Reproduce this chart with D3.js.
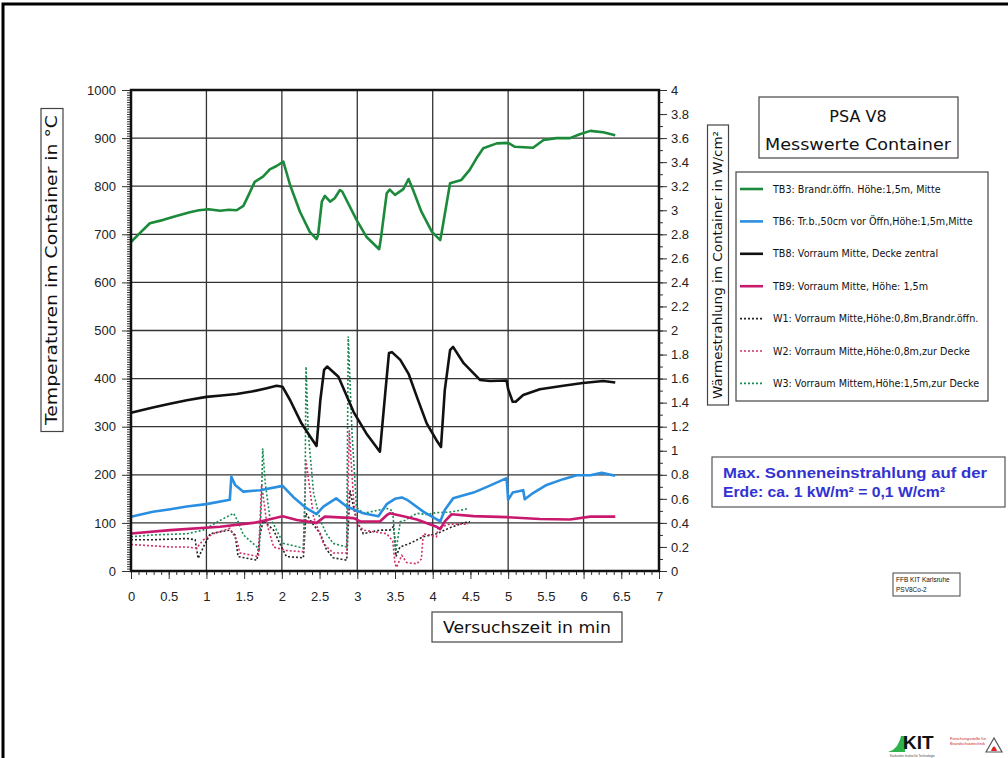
<!DOCTYPE html>
<html><head><meta charset="utf-8">
<script src="https://cdn.jsdelivr.net/npm/d3@7"></script>
<style>body{margin:0;background:#fff}svg{display:block}</style>
</head><body>
<svg id="c" width="1008" height="758"></svg>
<script>
// ---------- data ----------
const xTickValues = [0,0.5,1,1.5,2,2.5,3,3.5,4,4.5,5,5.5,6,6.5,7];
const tempTickValues = [0,100,200,300,400,500,600,700,800,900,1000];
const radTickValues = [0,0.2,0.4,0.6,0.8,1,1.2,1.4,1.6,1.8,2,2.2,2.4,2.6,2.8,3,3.2,3.4,3.6,3.8,4];

const tb3Time = [0,0.1,0.25,0.43,0.6,0.78,0.9,1.03,1.18,1.3,1.4,1.49,1.56,1.64,1.75,1.84,1.93,2.02,2.11,2.24,2.37,2.46,2.48,2.53,2.57,2.64,2.7,2.77,2.8,2.99,3.12,3.29,3.31,3.39,3.43,3.5,3.61,3.68,3.74,3.85,3.99,4.1,4.12,4.23,4.38,4.49,4.58,4.67,4.85,5,5.09,5.33,5.47,5.64,5.82,5.95,6.09,6.26,6.42];
const tb3Temp = [684,700,723,730,738,746,750,752,749,751,750,759,782,809,820,835,842,851,802,747,705,690,698,768,780,768,775,792,789,730,695,669,688,785,793,782,794,815,792,747,705,688,705,806,813,834,858,879,889,890,882,880,896,900,900,908,915,912,906];

const tb6Time = [0,0.29,0.5,0.74,1,1.31,1.33,1.38,1.49,1.71,2.01,2.15,2.33,2.46,2.55,2.72,2.86,3.08,3.28,3.39,3.5,3.59,3.66,3.88,4.1,4.16,4.27,4.54,4.72,4.98,5,5.06,5.2,5.22,5.33,5.51,5.73,5.91,6.09,6.24,6.42];
const tb6Temp = [113,123,128,134,139,148,196,179,165,168,177,154,130,118,134,151,134,120,114,139,150,153,148,123,103,127,151,163,175,193,148,163,168,149,162,179,191,199,199,204,198];

const tb8Time = [0,0.29,0.5,0.74,1,1.2,1.4,1.6,1.8,1.93,2.01,2.11,2.26,2.39,2.46,2.51,2.56,2.6,2.75,2.95,3.12,3.3,3.37,3.42,3.46,3.57,3.68,3.79,3.92,4.05,4.11,4.16,4.23,4.27,4.41,4.63,4.76,4.98,5,5.06,5.1,5.2,5.42,5.73,5.99,6.26,6.42];
const tb8Temp = [329,340,347,355,362,365,368,373,380,385,383,355,307,276,260,355,418,425,404,331,286,248,369,453,455,439,410,362,307,272,258,376,459,466,432,397,395,396,378,352,352,366,378,385,391,395,392];

const tb9Time = [0,0.52,1.18,1.62,1.8,2.01,2.2,2.46,2.57,2.95,3.04,3.3,3.39,3.43,3.61,3.79,4.05,4.1,4.16,4.25,4.54,4.98,5.42,5.82,6.09,6.42];
const tb9Temp = [78,85,92,100,106,114,106,100,113,110,103,103,116,120,114,107,92,87,103,118,114,112,108,107,113,113];

const w1Time = [0,0.3,0.74,0.85,0.89,0.96,1.05,1.31,1.38,1.42,1.67,1.71,1.754,1.89,1.98,2.06,2.285,2.32,2.4,2.51,2.59,2.68,2.86,2.903,2.99,3.08,3.3,3.43,3.48,3.5,3.513,3.566,3.7,3.875,4.053,4.229,4.406,4.494];
const w1Rad  = [0.26,0.26,0.27,0.26,0.105,0.2,0.31,0.34,0.3,0.12,0.09,0.3,0.42,0.34,0.22,0.12,0.11,0.48,0.4,0.31,0.18,0.11,0.09,0.67,0.42,0.31,0.34,0.34,0.37,0.25,0.12,0.2,0.23,0.285,0.31,0.36,0.4,0.41];

const w2Time = [0,0.52,0.74,0.87,0.96,1.09,1.31,1.4,1.445,1.69,1.732,1.8,1.89,2.06,2.285,2.32,2.42,2.55,2.68,2.86,2.894,2.95,2.99,3.08,3.39,3.47,3.5,3.52,3.59,3.655,3.79,3.85,3.875,4.05,4.07,4.23,4.36,4.47];
const w2Rad  = [0.22,0.2,0.2,0.19,0.26,0.31,0.355,0.26,0.15,0.12,0.72,0.4,0.2,0.17,0.16,0.92,0.45,0.23,0.15,0.15,1.17,0.6,0.4,0.34,0.31,0.25,0.06,0.03,0.13,0.07,0.06,0.1,0.31,0.285,0.36,0.39,0.39,0.39];

const w3Time = [0,0.3,0.74,0.96,1.18,1.36,1.42,1.49,1.67,1.7,1.73,1.746,1.78,1.84,1.93,2.02,2.285,2.307,2.32,2.35,2.42,2.51,2.59,2.68,2.86,2.88,2.93,2.99,3.08,3.39,3.47,3.51,3.57,3.63,3.79,3.92,4.05,4.23,4.41,4.47];
const w3Rad  = [0.285,0.3,0.31,0.34,0.42,0.48,0.41,0.3,0.2,0.18,0.59,1.02,0.73,0.45,0.34,0.23,0.19,0.6,1.7,1.15,0.65,0.42,0.31,0.23,0.2,1.95,1.15,0.53,0.48,0.52,0.5,0.15,0.41,0.42,0.48,0.47,0.485,0.49,0.51,0.52];

const legendLabels = [
  "TB3: Brandr.öffn. Höhe:1,5m, Mitte",
  "TB6: Tr.b.,50cm vor Öffn,Höhe:1,5m,Mitte",
  "TB8: Vorraum Mitte, Decke zentral",
  "TB9: Vorraum Mitte, Höhe: 1,5m",
  "W1: Vorraum Mitte,Höhe:0,8m,Brandr.öffn.",
  "W2: Vorraum Mitte,Höhe:0,8m,zur Decke",
  "W3: Vorraum Mittem,Höhe:1,5m,zur Decke"
];

// ---------- setup ----------
const svg = d3.select("#c");
const L = 131, R = 659, T = 90, B = 571;
const x = d3.scaleLinear([0,7],[L,R]);
const yT = d3.scaleLinear([0,1000],[B,T]);
const yW = d3.scaleLinear([0,4],[B,T]);

svg.append("rect").attr("width",1008).attr("height",758).attr("fill","#fff");
// page frame
svg.append("path").attr("d","M3,758 V4 H1008").attr("fill","none").attr("stroke","#000").attr("stroke-width",3);

const LBL = "'Liberation Sans', Arial, sans-serif";
const TTL = "'DejaVu Sans', 'Liberation Sans', sans-serif";

// grid
const g = svg.append("g");
g.selectAll("line.v").data([1,2,3,4,5,6]).join("line")
  .attr("x1",d=>x(d)).attr("x2",d=>x(d)).attr("y1",T).attr("y2",B)
  .attr("stroke","#333").attr("stroke-width",1.3);
g.selectAll("line.h").data([100,200,300,400,500,600,700,800,900]).join("line")
  .attr("y1",d=>yT(d)).attr("y2",d=>yT(d)).attr("x1",L).attr("x2",R)
  .attr("stroke","#333").attr("stroke-width",1.3);

function styleAxis(sel){
  sel.select(".domain").remove();
  sel.selectAll("line").attr("stroke","#333").attr("stroke-width",1);
  sel.selectAll("text").attr("font-family",LBL).attr("font-size",13).attr("fill","#222");
}
// left axis
svg.append("g").attr("transform",`translate(${L},0)`)
  .call(d3.axisLeft(yT).tickValues(d3.range(0,1001,5)).tickSize(4).tickFormat("")).call(styleAxis);
svg.append("g").attr("transform",`translate(${L},0)`)
  .call(d3.axisLeft(yT).tickValues(tempTickValues).tickSize(9).tickPadding(6).tickFormat(d3.format("d"))).call(styleAxis);
// right axis
svg.append("g").attr("transform",`translate(${R},0)`)
  .call(d3.axisRight(yW).tickValues(d3.range(0,41,1).map(v=>v/10)).tickSize(4).tickFormat("")).call(styleAxis);
svg.append("g").attr("transform",`translate(${R},0)`)
  .call(d3.axisRight(yW).tickValues(radTickValues).tickSize(8).tickPadding(4).tickFormat(d3.format("~g"))).call(styleAxis);
// bottom axis
svg.append("g").attr("transform",`translate(0,${B})`)
  .call(d3.axisBottom(x).tickValues(d3.range(0,71,1).map(v=>v/10)).tickSize(4).tickFormat("")).call(styleAxis);
svg.append("g").attr("transform",`translate(0,${B})`)
  .call(d3.axisBottom(x).tickValues(xTickValues).tickSize(8).tickPadding(13).tickFormat(d3.format("~g"))).call(styleAxis);

// series
const lineT = d3.line().x(d=>x(d[0])).y(d=>yT(d[1]));
const lineW = d3.line().x(d=>x(d[0])).y(d=>yW(d[1]));
const solid = [
  {t:tb6Time,v:tb6Temp,c:"#2a8fe0"},
  {t:tb9Time,v:tb9Temp,c:"#c8196f"},
  {t:tb8Time,v:tb8Temp,c:"#111"},
  {t:tb3Time,v:tb3Temp,c:"#1b8a3a"}
];
const dotted = [
  {t:w1Time,v:w1Rad,c:"#222"},
  {t:w2Time,v:w2Rad,c:"#d0306e"},
  {t:w3Time,v:w3Rad,c:"#1c8a55"}
];
dotted.forEach(s=>{
  svg.append("path").datum(d3.zip(s.t,s.v)).attr("d",lineW)
    .attr("fill","none").attr("stroke",s.c).attr("stroke-width",1.6).attr("stroke-dasharray","2,2");
});
solid.forEach(s=>{
  svg.append("path").datum(d3.zip(s.t,s.v)).attr("d",lineT)
    .attr("fill","none").attr("stroke",s.c).attr("stroke-width",2.6).attr("stroke-linejoin","round");
});

// plot frame
svg.append("rect").attr("x",L).attr("y",T).attr("width",R-L).attr("height",B-T)
  .attr("fill","none").attr("stroke","#111").attr("stroke-width",2.5);

// axis titles
function boxText(cx, cy, w, h, rot, txt, fs, tl){
  const gg = svg.append("g").attr("transform",`translate(${cx},${cy}) rotate(${rot})`);
  gg.append("rect").attr("x",-w/2).attr("y",-h/2).attr("width",w).attr("height",h)
    .attr("fill","#fff").attr("stroke","#444").attr("stroke-width",1.2);
  gg.append("text").attr("x",0).attr("y",fs*0.36).attr("text-anchor","middle")
    .attr("font-family",TTL).attr("font-size",fs).attr("fill","#111")
    .attr("textLength",tl).attr("lengthAdjust","spacingAndGlyphs").text(txt);
}
boxText(52, 270, 323, 22, -90, "Temperaturen im Container in °C", 15, 310);
boxText(718, 265, 280, 21, -90, "Wärmestrahlung im Container in W/cm²", 12, 268);
boxText(527, 627, 190, 30, 0, "Versuchszeit in min", 16.5, 168);

// title box
svg.append("rect").attr("x",759).attr("y",97).attr("width",199).attr("height",61)
  .attr("fill","#fff").attr("stroke","#444").attr("stroke-width",1.2);
svg.append("text").attr("x",858).attr("y",122).attr("text-anchor","middle")
  .attr("font-family",TTL).attr("font-size",16).attr("fill","#111").text("PSA V8");
svg.append("text").attr("x",858).attr("y",150).attr("text-anchor","middle")
  .attr("font-family",TTL).attr("font-size",16).attr("fill","#111")
  .attr("textLength",186).attr("lengthAdjust","spacingAndGlyphs").text("Messwerte Container");

// legend
svg.append("rect").attr("x",736).attr("y",172).attr("width",252).attr("height",229)
  .attr("fill","#fff").attr("stroke","#444").attr("stroke-width",1.2);
const legendSeries = [solid[3],solid[0],solid[2],solid[1],dotted[0],dotted[1],dotted[2]];
legendLabels.forEach((lab,i)=>{
  const yy = 189 + i*32.4;
  const s = legendSeries[i];
  svg.append("line").attr("x1",740).attr("x2",763).attr("y1",yy).attr("y2",yy)
    .attr("stroke",s.c).attr("stroke-width",i<4?2.6:1.6).attr("stroke-dasharray",i<4?null:"2,2");
  svg.append("text").attr("x",773).attr("y",yy+3.5)
    .attr("font-family","'DejaVu Sans',sans-serif").attr("font-size",9.6).attr("fill","#111").text(lab);
});

// annotation
svg.append("rect").attr("x",712).attr("y",457).attr("width",293).attr("height",50)
  .attr("fill","#fff").attr("stroke","#555").attr("stroke-width",1.2);
svg.append("text").attr("x",723).attr("y",478).attr("font-family",LBL).attr("font-weight","bold")
  .attr("font-size",15).attr("fill","#3232d2")
  .attr("textLength",264).attr("lengthAdjust","spacingAndGlyphs").text("Max. Sonneneinstrahlung auf der");
svg.append("text").attr("x",723).attr("y",497).attr("font-family",LBL).attr("font-weight","bold")
  .attr("font-size",15).attr("fill","#3232d2")
  .attr("textLength",222).attr("lengthAdjust","spacingAndGlyphs").text("Erde: ca. 1 kW/m² = 0,1 W/cm²");

// small id box
svg.append("rect").attr("x",893).attr("y",573).attr("width",67).attr("height",23)
  .attr("fill","#fff").attr("stroke","#444").attr("stroke-width",1);
svg.append("text").attr("x",896).attr("y",582).attr("font-family",LBL).attr("font-size",6.5).attr("fill","#111").text("FFB KIT Karlsruhe");
svg.append("text").attr("x",896).attr("y",592).attr("font-family",LBL).attr("font-size",6.5).attr("fill","#111").text("PSV8Co-2");

// KIT logo
const logo = svg.append("g");
[0,1,2,3].forEach(i=>{
  logo.append("path").attr("d",`M${888+i*3},752 L${898+i*1},${748-i*4} L${902+i*1},${748-i*4} L${896+i*3},752 Z`).attr("fill","#2db34a");
});
logo.append("text").attr("x",903).attr("y",749).attr("font-family",LBL).attr("font-weight","bold")
  .attr("font-size",19).attr("fill","#111").text("KIT");
logo.append("text").attr("x",950).attr("y",740).attr("font-family",LBL).attr("font-size",4).attr("fill","#c22").text("Forschungsstelle für");
logo.append("text").attr("x",950).attr("y",745).attr("font-family",LBL).attr("font-size",4).attr("fill","#c22").text("Brandschutztechnik");
logo.append("text").attr("x",890).attr("y",757).attr("font-family",LBL).attr("font-size",3).attr("fill","#444").text("Karlsruher Institut für Technologie");
logo.append("path").attr("d","M986,752 L994,738 L1002,752 Z").attr("fill","none").attr("stroke","#555").attr("stroke-width",1.2);
logo.append("path").attr("d","M991,751 Q994,742 997,751 Z").attr("fill","#d22");
</script>
</body></html>
